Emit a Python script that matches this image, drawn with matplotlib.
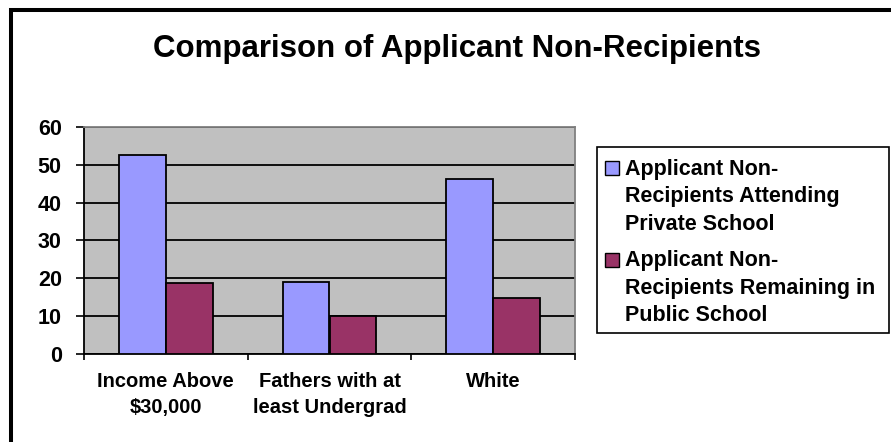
import numpy as np
import matplotlib.pyplot as plt
from matplotlib.patches import Rectangle

# Chart data
categories = ["Income Above\n$30,000", "Fathers with at\nleast Undergrad", "White"]
private_school = [52.6, 18.9, 46.3]
public_school = [18.8, 10.0, 14.7]
series_names = ["Applicant Non-\nRecipients Attending\nPrivate School",
                "Applicant Non-\nRecipients Remaining in\nPublic School"]
y_ticks = [0, 10, 20, 30, 40, 50, 60]

plt.rcParams['font.family'] = ['Liberation Sans', 'DejaVu Sans']
plt.rcParams['font.weight'] = 'bold'

W, H = 891, 442
fig = plt.figure(figsize=(W / 100, H / 100), dpi=100)
fig.patch.set_facecolor('white')

# plot area placed in pixel terms
left, right, bottom, top = 84, 575, 353.5, 127
ax = fig.add_axes([left / W, 1 - bottom / H, (right - left) / W, (bottom - top) / H])
ax.set_facecolor('#C0C0C0')

colors = ['#9999FF', '#993366']
x = np.arange(len(categories))
w = 0.287
ax.bar(x - w / 2, private_school, w, color=colors[0], edgecolor='black', linewidth=1.3, zorder=3)
ax.bar(x + w / 2, public_school, w, color=colors[1], edgecolor='black', linewidth=1.3, zorder=3)

ax.set_xlim(-0.5, len(categories) - 0.5)
ax.set_ylim(0, 60)
ax.set_yticks(y_ticks)
ax.set_yticklabels([str(t) for t in y_ticks], fontsize=15.5, fontweight='bold')
ax.yaxis.grid(True, color='black', linewidth=1.3, zorder=0)
ax.set_axisbelow(True)
ax.tick_params(axis='y', length=6, width=1.2, pad=10, direction='out')

ax.set_xticks(x)
ax.set_xticklabels(categories, fontsize=14.5, fontweight='bold', linespacing=1.5)
ax.tick_params(axis='x', which='major', length=0, pad=13)
ax.set_xticks(np.arange(-0.5, len(categories)), minor=True)
ax.tick_params(axis='x', which='minor', length=4, width=1.2, direction='out')

for side in ['left', 'bottom']:
    ax.spines[side].set_color('black')
    ax.spines[side].set_linewidth(1.3)
for side in ['top', 'right']:
    ax.spines[side].set_color('#808080')
    ax.spines[side].set_linewidth(1.3)

fig.text(457 / W, 1 - 57 / H, "Comparison of Applicant Non-Recipients",
         ha='center', va='baseline', fontsize=22.5, fontweight='bold')

# legend box, drawn in figure pixels
def px(xp, yp):
    return xp / W, 1 - yp / H

lx0, ly0, lx1, ly1 = 597, 147, 889, 333
fig.patches.append(Rectangle(px(lx0, ly1), (lx1 - lx0) / W, (ly1 - ly0) / H,
                             transform=fig.transFigure, facecolor='white',
                             edgecolor='black', linewidth=1.2))
for i, (name, c) in enumerate(zip(series_names, colors)):
    sq_top = 161.5 + i * 91.5
    fig.patches.append(Rectangle(px(605, sq_top + 14), 14 / W, 14 / H,
                                 transform=fig.transFigure, facecolor=c,
                                 edgecolor='black', linewidth=1.0))
    fig.text(*px(625, sq_top - 3), name, ha='left', va='top',
             fontsize=15.5, fontweight='bold', linespacing=1.42)

# outer chart border
fig.patches.append(Rectangle(px(11, H + 20), 2, (H + 20 - 10) / H,
                             transform=fig.transFigure, facecolor='none',
                             edgecolor='black', linewidth=2.9, clip_on=False))

fig.savefig("out.png", dpi=100)
